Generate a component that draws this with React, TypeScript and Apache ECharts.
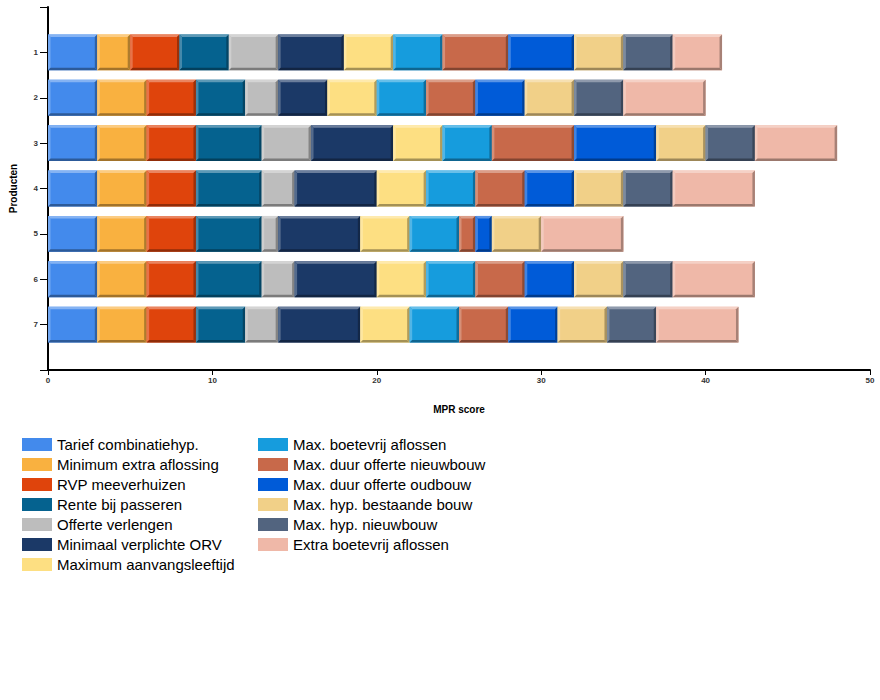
import React, { useEffect, useRef } from "react";
import * as echarts from "echarts";

const categories = ["1", "2", "3", "4", "5", "6", "7"];

const seriesNames = [
  "Tarief combinatiehyp.",
  "Minimum extra aflossing",
  "RVP meeverhuizen",
  "Rente bij passeren",
  "Offerte verlengen",
  "Minimaal verplichte ORV",
  "Maximum aanvangsleeftijd",
  "Max. boetevrij aflossen",
  "Max. duur offerte nieuwbouw",
  "Max. duur offerte oudbouw",
  "Max. hyp. bestaande bouw",
  "Max. hyp. nieuwbouw",
  "Extra boetevrij aflossen",
];

const colors = [
  "#438AEC",
  "#F9B140",
  "#DF440C",
  "#05628F",
  "#BDBDBD",
  "#1B3967",
  "#FDDF82",
  "#169CDD",
  "#C8694A",
  "#005BD8",
  "#F1D088",
  "#52647F",
  "#EFB8A8",
];

const tariefCombinatiehyp = [3, 3, 3, 3, 3, 3, 3];
const minimumExtraAflossing = [2, 3, 3, 3, 3, 3, 3];
const rvpMeeverhuizen = [3, 3, 3, 3, 3, 3, 3];
const renteBijPasseren = [3, 3, 4, 4, 4, 4, 3];
const offerteVerlengen = [3, 2, 3, 2, 1, 2, 2];
const minimaalVerplichteOrv = [4, 3, 5, 5, 5, 5, 5];
const maximumAanvangsleeftijd = [3, 3, 3, 3, 3, 3, 3];
const maxBoetevrijAflossen = [3, 3, 3, 3, 3, 3, 3];
const maxDuurOfferteNieuwbouw = [4, 3, 5, 3, 1, 3, 3];
const maxDuurOfferteOudbouw = [4, 3, 5, 3, 1, 3, 3];
const maxHypBestaandeBouw = [3, 3, 3, 3, 3, 3, 3];
const maxHypNieuwbouw = [3, 3, 3, 3, 0, 3, 3];
const extraBoetevrijAflossen = [3, 5, 5, 5, 5, 5, 5];

const seriesValues = [
  tariefCombinatiehyp,
  minimumExtraAflossing,
  rvpMeeverhuizen,
  renteBijPasseren,
  offerteVerlengen,
  minimaalVerplichteOrv,
  maximumAanvangsleeftijd,
  maxBoetevrijAflossen,
  maxDuurOfferteNieuwbouw,
  maxDuurOfferteOudbouw,
  maxHypBestaandeBouw,
  maxHypNieuwbouw,
  extraBoetevrijAflossen,
];

const xTicks = [0, 10, 20, 30, 40, 50];

function mix(hex: string, target: number, amt: number): string {
  const n = parseInt(hex.slice(1), 16);
  const r = (n >> 16) & 255;
  const g = (n >> 8) & 255;
  const b = n & 255;
  const f = (c: number) => Math.round(c + (target - c) * amt);
  return `rgb(${f(r)},${f(g)},${f(b)})`;
}

export default function App() {
  const ref = useRef<HTMLDivElement>(null);

  useEffect(() => {
    if (!ref.current) return;
    const chart = echarts.init(ref.current, undefined, { renderer: "svg" });

    const starts: number[][] = seriesValues.map(() => []);
    for (let j = 0; j < categories.length; j++) {
      let acc = 0;
      for (let i = 0; i < seriesValues.length; i++) {
        starts[i][j] = acc;
        acc += seriesValues[i][j];
      }
    }

    const series = seriesNames.map((name, i) => {
      const color = colors[i];
      const data = categories
        .map((_, j) => [starts[i][j], starts[i][j] + seriesValues[i][j], j + 1])
        .filter((d) => d[1] > d[0]);
      return {
        type: "custom",
        name,
        itemStyle: { color },
        encode: { x: [0, 1], y: 2 },
        data,
        renderItem: (params: any, api: any) => {
          const s = api.coord([api.value(0), api.value(2)]);
          const e = api.coord([api.value(1), api.value(2)]);
          const h = api.size([0, 1])[1] * 0.79;
          const x0 = s[0];
          const x1 = e[0];
          const y0 = s[1] - h / 2;
          const y1 = s[1] + h / 2;
          const b = 2.5;
          return {
            type: "group",
            children: [
              {
                type: "rect",
                shape: { x: x0, y: y0, width: x1 - x0, height: y1 - y0 },
                style: { fill: color },
              },
              {
                type: "polygon",
                shape: { points: [[x0, y0], [x1, y0], [x1 - b, y0 + b], [x0 + b, y0 + b]] },
                style: { fill: mix(color, 255, 0.35) },
              },
              {
                type: "polygon",
                shape: { points: [[x0, y0], [x0 + b, y0 + b], [x0 + b, y1 - b], [x0, y1]] },
                style: { fill: mix(color, 255, 0.25) },
              },
              {
                type: "polygon",
                shape: { points: [[x0, y1], [x1, y1], [x1 - b, y1 - b], [x0 + b, y1 - b]] },
                style: { fill: mix(color, 0, 0.35) },
              },
              {
                type: "polygon",
                shape: { points: [[x1, y0], [x1 - b, y0 + b], [x1 - b, y1 - b], [x1, y1]] },
                style: { fill: mix(color, 0, 0.3) },
              },
            ],
          };
        },
      };
    });

    const legendText = {
      fontFamily: "Liberation Sans, Arial, sans-serif",
      fontSize: 15,
      lineHeight: 15,
      color: "#000",
    };

    chart.setOption({
      animation: false,
      grid: { left: 48, right: 10, top: 7, bottom: 330, containLabel: false },
      legend: [
        {
          data: seriesNames.slice(0, 7),
          orient: "vertical",
          left: 22,
          top: 437,
          padding: 0,
          itemWidth: 30,
          itemHeight: 13,
          itemGap: 5,
          icon: "rect",
          textStyle: legendText,
        },
        {
          data: seriesNames.slice(7),
          orient: "vertical",
          left: 258,
          top: 437,
          padding: 0,
          itemWidth: 30,
          itemHeight: 13,
          itemGap: 5,
          icon: "rect",
          textStyle: legendText,
        },
      ],
      xAxis: {
        type: "value",
        min: xTicks[0],
        max: xTicks[xTicks.length - 1],
        interval: 10,
        name: "MPR score",
        nameLocation: "middle",
        nameGap: 34,
        nameTextStyle: {
          fontFamily: "Liberation Sans, Arial, sans-serif",
          fontSize: 10,
          fontWeight: "bold",
          color: "#000",
        },
        axisLine: { show: true, onZero: false, lineStyle: { color: "#000", width: 2 } },
        axisTick: { show: true, length: 5, lineStyle: { color: "#000" } },
        axisLabel: {
          fontFamily: "Liberation Sans, Arial, sans-serif",
          fontSize: 8,
          fontWeight: "bold",
          color: "#333",
          margin: 6,
        },
        splitLine: { show: false },
      },
      yAxis: {
        type: "value",
        min: 0,
        max: 8,
        interval: 1,
        inverse: true,
        name: "Producten",
        nameLocation: "middle",
        nameGap: 30,
        nameRotate: 90,
        nameTextStyle: {
          fontFamily: "Liberation Sans, Arial, sans-serif",
          fontSize: 10,
          fontWeight: "bold",
          color: "#000",
        },
        axisLine: { show: true, onZero: false, lineStyle: { color: "#000", width: 2 } },
        axisTick: { show: true, length: 8, lineStyle: { color: "#000" } },
        axisLabel: {
          fontFamily: "Liberation Sans, Arial, sans-serif",
          fontSize: 8,
          fontWeight: "bold",
          color: "#333",
          margin: 10,
          formatter: (v: number) => (v >= 1 && v <= categories.length ? categories[v - 1] : ""),
        },
        splitLine: { show: false },
      },
      series,
    });

    return () => chart.dispose();
  }, []);

  return (
    <div
      ref={ref}
      style={{ position: "absolute", left: 0, top: 0, width: 880, height: 700, background: "#fff" }}
    />
  );
}
